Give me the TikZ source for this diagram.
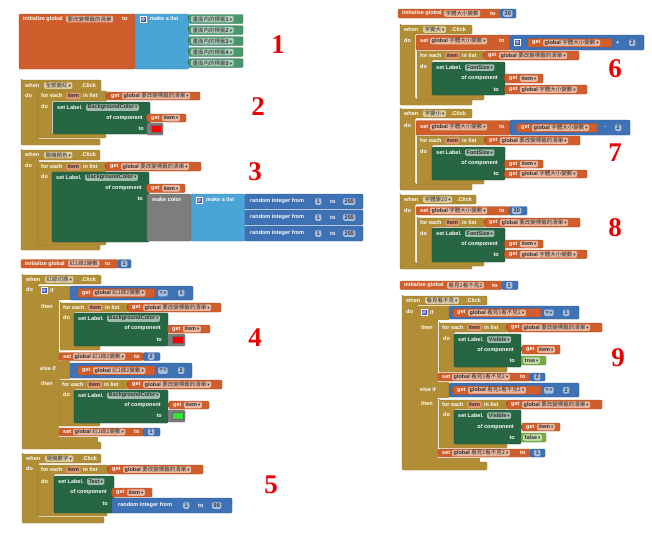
\documentclass[tikz,border=0pt]{standalone}
\usepackage{fontspec}
\setmainfont{Liberation Sans}
\newfontfamily\cjk{Noto Sans CJK TC}
\newfontfamily\sym{DejaVu Sans}
\newfontfamily\numfont{Liberation Serif}
\definecolor{vorange}{RGB}{208,94,44}
\definecolor{ctrl}{RGB}{177,142,54}
\definecolor{setg}{RGB}{38,102,67}
\definecolor{listb}{RGB}{74,164,214}
\definecolor{mathb}{RGB}{63,113,181}
\definecolor{compg}{RGB}{72,150,106}
\definecolor{colg}{RGB}{125,125,125}
\definecolor{logg}{RGB}{119,171,65}
\definecolor{ftext}{RGB}{45,45,45}
\definecolor{itemf}{RGB}{226,148,112}
\definecolor{rnum}{RGB}{235,0,0}
\definecolor{gearb}{RGB}{60,80,205}
\definecolor{brgreen}{RGB}{50,225,50}
\newcommand\blkfont{\fontsize{5.5}{6}\selectfont\bfseries}
\newcommand\zh[1]{{\cjk\mdseries #1}}
\newcommand\dd{\hspace{1pt}{\sym\mdseries\fontsize{4.5}{5}\selectfont ▾}}
\newcommand\glob[1]{global \zh{#1}\dd}
\tikzset{
  blk/.style={rounded corners=1pt, line width=.3pt},
  vb/.style={blk, fill=vorange, draw=vorange!80!black},
  cb/.style={blk, fill=ctrl, draw=ctrl!80!black},
  sg/.style={blk, fill=setg, draw=setg!70!black},
  listblk/.style={blk, fill=listb, draw=listb!80!black},
  mathblk/.style={blk, fill=mathb, draw=mathb!80!black},
  compblk/.style={blk, fill=compg, draw=compg!80!black},
  colblk/.style={blk, fill=colg, draw=colg!80!black},
  logblk/.style={blk, fill=logg, draw=logg!80!black},
  lbl/.style={text=white, font=\blkfont, inner sep=0pt, anchor=west},
  lble/.style={lbl, anchor=east},
  fld/.style={fill=white, fill opacity=.55, text opacity=1, text=ftext, font=\blkfont,
    rounded corners=1.2pt, inner xsep=1.5pt, inner ysep=0pt, minimum height=6.5pt, anchor=west},
  ifld/.style={fld, fill=itemf, fill opacity=1},
  rn/.style={text=rnum, font=\numfont\fontsize{27}{27}\selectfont\bfseries, inner sep=0pt}
}
% C-shaped statement block
\newcommand\cshp[9]{\filldraw[#9] (#1,#2) -| (#3,#4) -| (#5,#6) -| (#7,#8) -| (#1,#2) -- cycle;}
\newcommand\evhead[4]{\node[lbl] at (#1+4,#2) {when}; \node[fld] at (#1+23,#2) {\zh{#3}\dd}; \node[lbl] at (#4,#2) {.Click};}
\newcommand\feach[2]{\node[lbl] at (#1+3,#2) {for each}; \node[ifld] at (#1+28,#2) {item}; \node[lbl] at (#1+45,#2) {in list};}
\newcommand\vget[5]{\pgfmathsetmacro\my{(#2+#4)/2}%
  \filldraw[vb] (#1,#2) rectangle (#3,#4);
  \fill[vorange!80!black] (#1-1.5,#2+1.5) rectangle (#1,#2+5.5);
  \node[lbl] at (#1+4,\my) {get}; \node[fld] at (#1+15,\my) {#5};}
\newcommand\vset[7]{\filldraw[vb] (#1,#2) rectangle (#3,#4);
  \node[lbl] at (#1+4,#5) {set}; \node[fld] at (#1+14,#5) {\glob{#6}}; \node[lbl] at (#7,#5) {to};}
\newcommand\setlbl[7]{\filldraw[sg] (#1,#2) rectangle (#3,#4);
  \node[lbl] at (#1+4,#2+5.5) {set Label.}; \node[fld] at (#1+33,#2+5.5) {#5\dd};
  \node[lble] at (#3-7,#6) {of component}; \node[lble] at (#3-6,#7) {to};}
\newcommand\colblock[5]{\filldraw[colblk] (#1,#2) rectangle (#3,#4);
  \fill[colg!70!black] (#1-1.5,#2+1.5) rectangle (#1,#2+5.5);
  \filldraw[fill=#5, draw=black!60, line width=.3pt] (#1+4.5,#2+2.5) rectangle (#3-2,#4-2.5);}
\newcommand\gear[2]{\filldraw[fill=gearb, draw=white, line width=.3pt] (#1,#2) rectangle ++(6,6);
  \draw[white, line width=.5pt] (#1+3,#2+3) circle (1.4pt);}
\begin{document}
\begin{tikzpicture}[x=1pt,y=-1pt]
\useasboundingbox[fill=white] (0,0) rectangle (652,536);
%================ Block 1
\filldraw[vb] (19,14) rectangle (135,69);
\node[lbl] at (23,19) {initialize global};
\node[fld] at (66,19) {\zh{要改變標籤的清單}};
\node[lbl] at (122,19) {to};
\filldraw[listblk] (135,14) rectangle (189,69);
\gear{140}{16}
\node[lbl] at (150,19) {make a list};
\foreach \i/\y in {1/19,2/30,3/41,4/52,5/63} {
  \filldraw[compblk] (189,\y-4.5) rectangle (243,\y+4.5);
  \fill[compg!75!black] (187.5,\y-3) rectangle (189,\y+1);
  \node[fld] at (191,\y) {\zh{畫面內的標籤}\i\dd};
}
\node[rn] (n1) at (278,45) {1};
%================ Block 2
\cshp{21}{80}{101}{91}{38}{139}{100}{145}{cb}
\evhead{21}{85.5}{全部變紅}{81}
\node[lbl] at (25,96) {do};
\cshp{38}{91}{107}{101}{52}{134}{106}{138}{cb}
\feach{38}{96}
\node[lbl] at (41,107) {do};
\vget{107}{92}{200}{100}{\glob{要改變標籤的清單}}
\setlbl{53}{102}{150}{134}{BackgroundColor}{118}{128.5}
\vget{147}{114}{186}{122}{item\dd}
\colblock{147}{123}{163}{135}{red}
\node[rn] (n2) at (258,107) {2};
%================ Block 3
\cshp{21}{150}{100}{160}{38}{244}{100}{250}{cb}
\evhead{21}{155}{隨機顏色}{81}
\node[lbl] at (25,166) {do};
\cshp{38}{162}{106}{172}{52}{240}{106}{245}{cb}
\feach{38}{167}
\node[lbl] at (41,177) {do};
\vget{106}{162}{201}{171}{\glob{要改變標籤的清單}}
\setlbl{52}{172}{149}{242}{BackgroundColor}{188}{198.5}
\vget{147}{184}{185}{192.5}{item\dd}
\filldraw[colblk] (147,194) rectangle (191,241);
\node[lbl] at (152,199.5) {make color};
\filldraw[listblk] (191,194) rectangle (245,241);
\gear{196}{197}
\node[lbl] at (206,200) {make a list};
\foreach \y in {194,210,226} {
  \filldraw[mathblk] (245,\y) rectangle (363,\y+15);
  \node[lbl] at (250,\y+7.5) {random integer from};
  \node[fld] at (315,\y+7.5) {1};
  \node[lbl] at (330,\y+7.5) {to};
  \node[fld] at (343,\y+7.5) {255};
}
\node[rn] (n3) at (255,172) {3};
%================ Block 4
\filldraw[vb] (21,259.5) rectangle (118,268);
\node[lbl] at (25,263.7) {initialize global};
\node[fld] at (68,263.7) {\zh{紅1綠2變數}};
\node[lbl] at (105,263.7) {to};
\filldraw[mathblk] (118,259.5) rectangle (131,268);
\node[fld] at (121,263.7) {1};
\cshp{22}{275}{101}{284}{38}{442}{101}{449}{cb}
\evhead{22}{279.5}{紅綠切換}{81}
\node[lbl] at (26,290) {do};
\fill[ctrl] (38,286) rectangle (70,300);
\fill[ctrl] (38,286) rectangle (59,442);
\fill[ctrl] (38,361) rectangle (70,379);
\fill[ctrl] (38,437) rectangle (98,442);
\gear{41}{287}
\node[lbl] at (50,290) {if};
\node[lbl] at (41,307) {then};
\node[lbl] at (40,368.5) {else if};
\node[lbl] at (41,383.5) {then};
\filldraw[mathblk] (70,286) rectangle (193,300);
\vget{78}{288.5}{155}{297.5}{\glob{紅1綠2變數}}
\node[fld] at (158,293) {=\dd};
\node[fld] at (178,293) {1};
\cshp{60}{303}{128}{312}{74}{345}{100}{350}{cb}
\feach{60}{307.5}
\node[lbl] at (63,318) {do};
\vget{128}{303}{221}{312}{\glob{要改變標籤的清單}}
\setlbl{74}{313}{168}{346}{BackgroundColor}{328.5}{339.5}
\vget{168}{325}{210}{333}{item\dd}
\colblock{168}{334}{185}{346}{red}
\vset{59}{352.5}{143}{360.5}{356.5}{紅1綠2變數}{134}
\filldraw[mathblk] (143,352.5) rectangle (160,360.5);
\node[fld] at (148,356.5) {2};
\filldraw[mathblk] (70,363) rectangle (192,378);
\vget{78}{366}{155}{375}{\glob{紅1綠2變數}}
\node[fld] at (158,370.5) {=\dd};
\node[fld] at (178,370.5) {2};
\cshp{59}{380}{128}{389}{74}{422}{100}{426}{cb}
\feach{59}{384.5}
\node[lbl] at (63,394.5) {do};
\vget{128}{380}{222}{389}{\glob{要改變標籤的清單}}
\setlbl{74}{390}{168}{423}{BackgroundColor}{405}{416}
\vget{169}{401}{209}{409}{item\dd}
\colblock{168}{410}{185}{422}{brgreen}
\vset{59}{428}{143}{436}{432}{紅1綠2變數}{134}
\filldraw[mathblk] (143,428) rectangle (160,436);
\node[fld] at (148,432) {1};
\node[rn] (n4) at (255,338) {4};
%================ Block 5
\cshp{22}{454}{101}{463}{38}{517}{104}{523}{cb}
\evhead{22}{458.5}{隨機數字}{82}
\node[lbl] at (26,469) {do};
\cshp{38}{465}{108}{474}{54}{512}{107}{516}{cb}
\feach{38}{469.5}
\node[lbl] at (41,482) {do};
\vget{108}{465}{203}{474}{\glob{要改變標籤的清單}}
\setlbl{54}{476}{114}{513}{Text}{492.5}{503.5}
\vget{112}{488}{152}{497}{item\dd}
\filldraw[mathblk] (112,498) rectangle (232,513);
\node[lbl] at (118,505.5) {random integer from};
\node[fld] at (183,505.5) {1};
\node[lbl] at (198,505.5) {to};
\node[fld] at (212,505.5) {99};
\node[rn] (n5) at (271,485) {5};
%================ Block 6
\filldraw[vb] (398,9) rectangle (500,18);
\node[lbl] at (402,13.5) {initialize global};
\node[fld] at (444,13.5) {\zh{字體大小變數}};
\node[lbl] at (490,13.5) {to};
\filldraw[mathblk] (500,9) rectangle (516,18);
\node[fld] at (503,13.5) {20};
\cshp{400}{25}{472}{34}{415}{99}{472}{105}{cb}
\evhead{400}{29.5}{字變大}{451}
\node[lbl] at (404,40.5) {do};
\vset{416}{35}{510}{50}{41}{字體大小變數}{499}
\filldraw[mathblk] (510,35) rectangle (644,50);
\gear{514}{39}
\vget{528}{38.5}{612}{47}{\glob{字體大小變數}}
\node[lbl] at (616,42.75) {+};
\node[fld] at (629,42.75) {2};
\cshp{417}{51}{484}{60}{432}{95}{484}{100}{cb}
\feach{417}{55.5}
\node[lbl] at (420,67) {do};
\vget{484}{51}{579}{60}{\glob{要改變標籤的清單}}
\setlbl{432}{62}{505}{95}{FontSize}{78.5}{89.5}
\vget{505}{74}{543}{83}{item\dd}
\vget{505}{85}{587}{94}{\glob{字體大小變數}}
\node[rn] (n6) at (615,69) {6};
%================ Block 7
\cshp{400}{109}{472}{118}{415}{184}{472}{190}{cb}
\evhead{400}{113.5}{字變小}{451}
\node[lbl] at (404,126) {do};
\vset{416}{120.5}{510}{135}{127}{字體大小變數}{499}
\filldraw[mathblk] (510,120) rectangle (630,135);
\vget{517}{123.5}{597}{132}{\glob{字體大小變數}}
\node[lbl] at (604,127.75) {-};
\node[fld] at (615,127.75) {2};
\cshp{417}{136}{485}{145}{432}{180}{484}{184}{cb}
\feach{417}{140.5}
\node[lbl] at (420,152) {do};
\vget{485}{136}{580}{145}{\glob{要改變標籤的清單}}
\setlbl{432}{147}{505}{180}{FontSize}{163.5}{174}
\vget{505}{160}{543}{168}{item\dd}
\vget{505}{170}{587}{178}{\glob{字體大小變數}}
\node[rn] (n7) at (615,153) {7};
%================ Block 8
\cshp{400}{195}{476}{204}{415}{263}{472}{269}{cb}
\evhead{400}{199.5}{字體變20}{457}
\node[lbl] at (404,211) {do};
\vset{416}{206.5}{509}{215}{210.75}{字體大小變數}{499}
\filldraw[mathblk] (509,206.5) rectangle (527,215);
\node[fld] at (512,210.75) {20};
\cshp{417}{218}{485}{227}{432}{262}{484}{266}{cb}
\feach{417}{222.5}
\node[lbl] at (420,234) {do};
\vget{485}{218}{580}{227}{\glob{要改變標籤的清單}}
\setlbl{432}{228}{505}{262}{FontSize}{244}{254.5}
\vget{505}{240}{543}{248}{item\dd}
\vget{505}{250}{587}{258.5}{\glob{字體大小變數}}
\node[rn] (n8) at (615,228) {8};
%================ Block 9
\filldraw[vb] (400,281) rectangle (502,289.5);
\node[lbl] at (404,285.25) {initialize global};
\node[fld] at (447,285.25) {\zh{看見1看不見2}};
\node[lbl] at (492,285.25) {to};
\filldraw[mathblk] (502,281) rectangle (518,289.5);
\node[fld] at (506,285.25) {1};
\cshp{402}{296}{487}{305}{417}{462}{487}{470}{cb}
\evhead{402}{300.5}{看見看不見}{466}
\node[lbl] at (406,312) {do};
\fill[ctrl] (417,306) rectangle (449,320);
\fill[ctrl] (417,306) rectangle (438,462);
\fill[ctrl] (417,382) rectangle (449,398);
\fill[ctrl] (417,458) rectangle (480,462);
\gear{421}{309}
\node[lbl] at (430,312.5) {if};
\node[lbl] at (421,327.5) {then};
\node[lbl] at (420,389.5) {else if};
\node[lbl] at (421,403.5) {then};
\filldraw[mathblk] (449,306) rectangle (579,319);
\vget{453}{308.5}{541}{317}{\glob{看見1看不見2}}
\node[fld] at (544,312.75) {=\dd};
\node[fld] at (563,312.75) {1};
\cshp{439}{323}{507}{332}{454}{367}{507}{372}{cb}
\feach{439}{327.5}
\node[lbl] at (443,338.5) {do};
\vget{507}{323}{602}{332}{\glob{要改變標籤的清單}}
\setlbl{454}{334}{521}{367}{Visible}{350}{360.5}
\vget{522}{345}{560}{354}{item\dd}
\filldraw[logblk] (521,356) rectangle (546,365);
\node[fld] at (523,360.5) {true\dd};
\vset{438}{373}{530}{381}{377}{看見1看不見2}{520}
\filldraw[mathblk] (530,373) rectangle (545,381);
\node[fld] at (534,377) {2};
\filldraw[mathblk] (449,383) rectangle (579,397);
\vget{453}{386}{541}{394.5}{\glob{看見1看不見2}}
\node[fld] at (544,390.25) {=\dd};
\node[fld] at (563,390.25) {2};
\cshp{439}{400}{507}{409}{454}{444}{507}{448}{cb}
\feach{439}{404.5}
\node[lbl] at (443,415) {do};
\vget{507}{400}{602}{409}{\glob{要改變標籤的清單}}
\setlbl{454}{410}{521}{444}{Visible}{427}{437.5}
\vget{522}{423}{560}{431}{item\dd}
\filldraw[logblk] (521,433) rectangle (546,442);
\node[fld] at (523,437.5) {false\dd};
\vset{438}{449}{530}{457}{453}{看見1看不見2}{520}
\filldraw[mathblk] (530,449) rectangle (545,457);
\node[fld] at (534,453) {1};
\node[rn] (n9) at (618,358) {9};
\end{tikzpicture}
\end{document}
